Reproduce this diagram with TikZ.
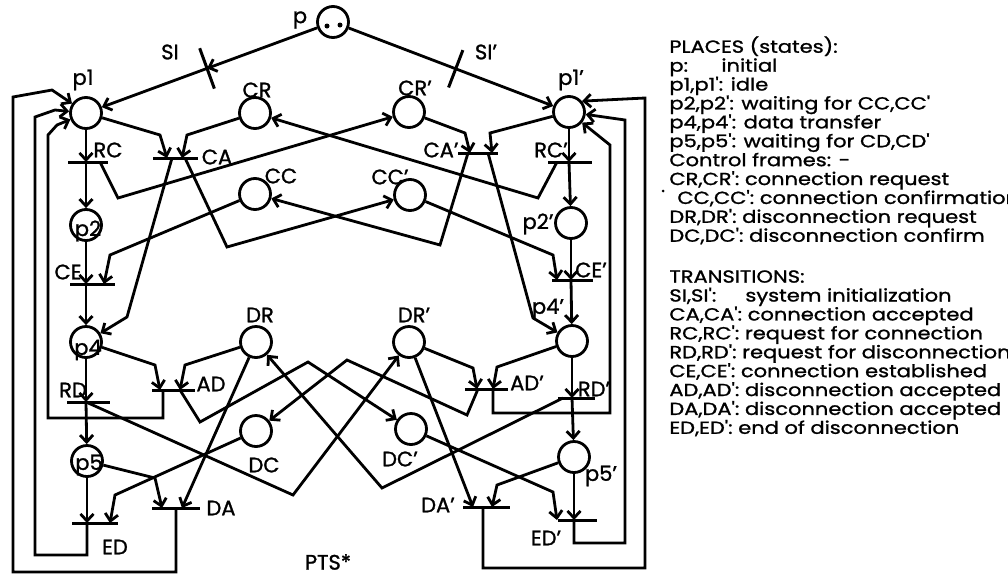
\documentclass[tikz,border=0pt]{standalone}
\usepackage{fontspec}
\setmainfont{Poppins}[UprightFeatures={FakeBold=1.2}]
\newfontfamily\legfont{Poppins}[FakeStretch=1.2, FakeBold=1.2]
\usetikzlibrary{arrows.meta,calc}
\lineskiplimit=-100pt
\begin{document}
\begin{tikzpicture}[x=1pt,y=-1pt,
  line width=2.8pt,
  arr/.style={-{Straight Barb[length=7pt,width=13pt]}},
  place/.style={circle,draw,minimum size=31pt,inner sep=0pt,line width=2.8pt},
  trans/.style={rectangle,fill=black,minimum width=#1,minimum height=3pt,inner sep=0pt},
  lbl/.style={font=\fontsize{21}{21}\selectfont,inner sep=0pt},
]
\useasboundingbox (0,0) rectangle (1008,576);

% places
\node[place] (p) at (333,22) {};
\node[place] (p1) at (86,113) {};
\node[place] (p1r) at (569,112) {};
\node[place] (CR) at (255,113) {};
\node[place] (CRr) at (409,112) {};
\node[place] (CC) at (255,194) {};
\node[place] (CCr) at (410,195) {};
\node[place] (p2) at (86,225) {};
\node[place] (p2r) at (571,223) {};
\node[place] (p4) at (86,342) {};
\node[place] (p4r) at (572,341) {};
\node[place] (DR) at (256,342) {};
\node[place] (DRr) at (409,342) {};
\node[place] (DC) at (256,431) {};
\node[place] (DCr) at (411,429) {};
\node[place] (p5) at (87,461) {};
\node[place] (p5r) at (574,457) {};
\fill (327,26) circle[radius=2.5pt];
\fill (340,25) circle[radius=2.5pt];

% transitions
\node[trans=43pt, rotate=-70] (SI) at ($(p)!0.51!(p1)$) {};
\node[trans=40pt, rotate=69] (SIr) at ($(p)!0.52!(p1r)$) {};
\node[trans=40pt] (RC) at (88,162) {};
\node[trans=45pt] (CA) at (175,158) {};
\node[trans=40pt] (CAr) at (478,153) {};
\node[trans=44pt] (RCr) at (570,162) {};
\node[trans=45pt] (CE) at (92,284) {};
\node[trans=41pt] (CEr) at (572,280) {};
\node[trans=43pt] (AD) at (173,390) {};
\node[trans=43pt] (ADr) at (486,389) {};
\node[trans=43pt] (RD) at (88,402) {};
\node[trans=37pt] (RDr) at (576,398) {};
\node[trans=48pt] (DA) at (176,508) {};
\node[trans=47pt] (DAr) at (486,507) {};
\node[trans=46pt] (ED) at (95,523) {};
\node[trans=39pt] (EDr) at (577,520) {};

% initialization
\draw[arr] (p) -- (SI.center);
\draw[arr] (SI.center) -- (p1);
\draw (p) -- (SIr.center);
\draw[arr] (SIr.center) -- (p1r);

% connection phase
\draw[arr] (p1) -- (p1 |- RC);
\draw[arr] (p1 |- RC) -- (p2);
\draw[arr] ($(RC)+(12,0)$) -- (118,198) -- (CRr);
\draw[arr] ($(RCr)+(-13,0)$) -- (538,198) -- (CR);
\draw[arr] (p1) -- (160,135) -- ($(CA)+(-8,0)$);
\draw[arr] (CR) -- (187,135) -- ($(CA)+(7,0)$);
\draw[arr] ($(CA)+(-3,0)$) -- (127,317) -- (p4);
\draw[arr] ($(CA)+(10,0)$) -- (227,247) -- (CCr);
\draw[arr] (p1r) -- (490,133) -- ($(CAr)+(14,0)$);
\draw[arr] (CRr) -- (465,133) -- ($(CAr)+(-8,0)$);
\draw[arr] ($(CAr)+(-10,0)$) -- (440,245) -- (CC);
\draw[arr] ($(CAr)+(10,0)$) -- (533,318) -- (p4r);
\draw[arr] (p1r) -- (p1r |- RCr);
\draw[arr] (p1r |- RCr) -- (p2r);

\draw[arr] (CC) -- (110,255) -- ($(CE)+(12,0)$);
\draw[arr] (p2) -- (p2 |- CE);
\draw[arr] (p2 |- CE) -- (p4);
\draw[arr] (CCr) -- (553,255) -- ($(CEr)+(-15,0)$);
\draw[arr] (p2r) -- (p2r |- CEr);
\draw[arr] (p2r |- CEr) -- (p4r);

% disconnection phase
\draw[arr] (p4) -- (155,365) -- ($(AD)+(-13,0)$);
\draw[arr] (DR) -- (185,365) -- ($(AD)+(7,0)$);
\draw[arr] ($(AD)+(7,0)$) -- (200,422) -- (308,362) -- (DCr);
\draw[arr] ($(AD)+(-10,0)$) -- (163,418) -- (48,418) -- (48,135) -- (57,125) -- (p1);

\draw[arr] (p4r) -- (497,367) -- ($(ADr)+(7,0)$);
\draw[arr] (DRr) -- (473,368) -- ($(ADr)+(-9,0)$);
\draw[arr] ($(ADr)+(-8,0)$) -- (467,415) -- (347,360) -- (DC);
\draw[arr] ($(ADr)+(7,0)$) -- (493,413) -- (610,413) -- (610,145) -- (p1r);

\draw[arr] (p4) -- (p4 |- RD);
\draw[arr] (p4 |- RD) -- (p5);
\draw[arr] (p4 |- RD) -- (293,495) -- (DRr);
\draw[arr] (p4r) -- (p4r |- RDr);
\draw[arr] (p4r |- RDr) -- (p5r);
\draw[arr] ($(RDr)+(-13,0)$) -- (382,488) -- (DR);

\draw[arr] (DR) -- ($(DA)+(6,0)$);
\draw[arr] (p5) -- (155,478) -- ($(DA)+(-14,0)$);
\draw[arr] (DA.center) -- (176,572) -- (13,572) -- (13,97) -- (52,90) -- (p1);
\draw[arr] (DRr) -- ($(DAr)+(-13,0)$);
\draw[arr] (p5r) -- (497,485) -- ($(DAr)+(6,0)$);
\draw[arr] ($(DAr)+(-3,0)$) -- (483,568) -- (645,568) -- (645,98) -- (p1r.40);

\draw[arr] (DC) -- (115,495) -- ($(ED)+(15,0)$);
\draw[arr] (p5) -- (p5 |- ED);
\draw[arr] (p5 |- ED) -- (87,555) -- (35,555) -- (35,117) -- (55,110) -- (p1);
\draw[arr] (DCr) -- (553,492) -- ($(EDr)+(-20,0)$);
\draw[arr] (p5r) -- (p5r |- EDr);
\draw[arr] (p5r |- EDr) -- (574,543) -- (625,543) -- (625,120) -- (p1r);

% labels
\node[lbl] (lp) at (300,20) {p};
\node[lbl] (lSI) at (170,52) {SI};
\node[lbl] (lSIr) at (486,52) {SI'};
\node[lbl] (lp1) at (83,80) {p1};
\node[lbl] (lp1r) at (571,80) {p1'};
\node[lbl] (lCR) at (257,90) {CR};
\node[lbl] (lCRr) at (415,88) {CR'};
\node[lbl] (lCC) at (281,176) {CC};
\node[lbl] (lCCr) at (390,177) {CC'};
\node[lbl] (lRC) at (108,150) {RC};
\node[lbl] (lCA) at (217,157) {CA};
\node[lbl] (lCAr) at (441,150) {CA'};
\node[lbl] (lRCr) at (551,150) {RC'};
\node[lbl] (lp2) at (88,231) {p2};
\node[lbl] (lp2r) at (538,224) {p2'};
\node[lbl] (lCE) at (68,272) {CE};
\node[lbl] (lCEr) at (591,270) {CE'};
\node[lbl] (lp4) at (88,350) {p4};
\node[lbl] (lp4r) at (548,309) {p4'};
\node[lbl] (lDR) at (260,315) {DR};
\node[lbl] (lDRr) at (414,315) {DR'};
\node[lbl] (lAD) at (211,384) {AD};
\node[lbl] (lADr) at (527,383) {AD'};
\node[lbl] (lRD) at (73,390) {RD};
\node[lbl] (lRDr) at (594,389) {RD'};
\node[lbl] (lp5) at (89,465) {p5};
\node[lbl] (lp5r) at (601,476) {p5'};
\node[lbl] (lDC) at (264,465) {DC};
\node[lbl] (lDCr) at (400,459) {DC'};
\node[lbl] (lDA) at (221,508) {DA};
\node[lbl] (lDAr) at (438,505) {DA'};
\node[lbl] (lED) at (115,547) {ED};
\node[lbl] (lEDr) at (546,538) {ED'};
\node[lbl] (lPTS) at (328,562) {PTS*};

% legend
\node[lbl, anchor=north west, align=left, font=\legfont\fontsize{17.5}{18.9}\selectfont] (legend) at (668,35) {%
PLACES (states):\\
\makebox[52pt][l]{p:}initial\\
p1,p1': idle\\
p2,p2': waiting for CC,CC'\\
p4,p4': data transfer\\
p5,p5': waiting for CD,CD'\\
Control frames: -\\
CR,CR': connection request\\
\hspace*{8pt}CC,CC': connection confirmation\\
DR,DR': disconnection request\\
DC,DC': disconnection confirm\\[22pt]
TRANSITIONS:\\
\makebox[76pt][l]{SI,SI':}system initialization\\
CA,CA': connection accepted\\
RC,RC': request for connection\\
RD,RD': request for disconnection\\
CE,CE': connection established\\
AD,AD': disconnection accepted\\
DA,DA': disconnection accepted\\
ED,ED': end of disconnection};
\fill (663,191) circle[radius=1.5pt];
\end{tikzpicture}
\end{document}
